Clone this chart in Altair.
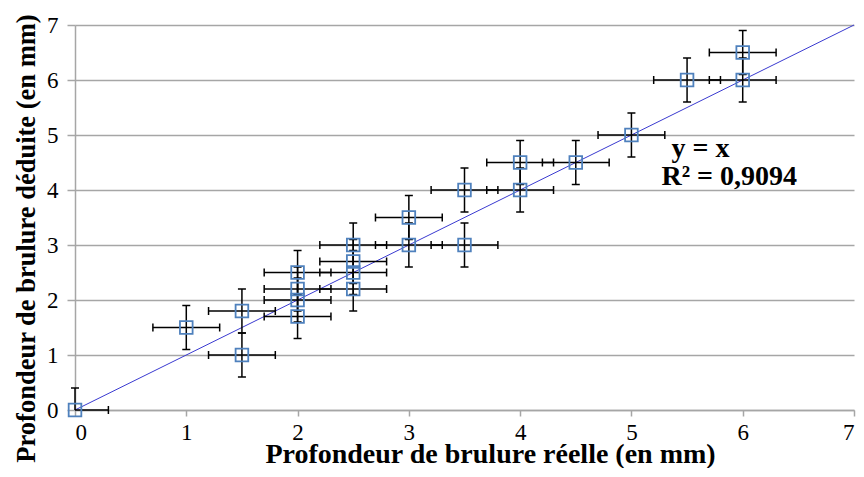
import altair as alt
import pandas as pd

# Data
x_reel = [0, 1, 1.5, 1.5, 2, 2, 2, 2, 2.5, 2.5, 2.5, 2.5, 3, 3, 3.5, 3.5, 4, 4, 4.5, 5, 5.5, 6, 6]
y_deduit = [0, 1.5, 1.8, 1.0, 2.5, 2.2, 2.0, 1.7, 3.0, 2.7, 2.5, 2.2, 3.5, 3.0, 4.0, 3.0, 4.5, 4.0, 4.5, 5.0, 6.0, 6.5, 6.0]
x_err = [0.3] * 23
y_err = [0.4] * 23

fit_x = [0, 7]
fit_y = [0, 7]

ticks = [0, 1, 2, 3, 4, 5, 6, 7]

ann_text = ["y = x", "R² = 0,9094"]
ann_x = [5.36, 5.27]
ann_y = [4.6, 4.09]

df = pd.DataFrame({"x": x_reel, "y": y_deduit, "xe": x_err, "ye": y_err})
df["xlo"] = (df["x"] - df["xe"]).clip(lower=0)
df["xhi"] = df["x"] + df["xe"]
df["ylo"] = (df["y"] - df["ye"]).clip(lower=0)
df["yhi"] = df["y"] + df["ye"]

fit = pd.DataFrame({"x": fit_x, "y": fit_y})
ann = pd.DataFrame({"t": ann_text, "x": ann_x, "y": ann_y})

SERIF = "Liberation Serif, Times New Roman, serif"
GRAY = "#a6a6a6"

xs = alt.Scale(domain=[0, 7], nice=False)
ys = alt.Scale(domain=[0, 7], nice=False)

x_axis = alt.Axis(
    values=ticks, format="d", grid=False, tickSize=6,
    labelPadding=5, title="Profondeur de brulure réelle (en mm)",
    titleX=415, titleY=52, titleBaseline="alphabetic", titleAlign="center"
)
y_axis = alt.Axis(
    values=ticks, format="d", grid=True, tickSize=8, labelPadding=9,
    title="Profondeur de brulure déduite (en mm)", titleFontSize=26.5,
    titleX=-41, titleY=213, titleBaseline="alphabetic", titleAlign="center", titleAngle=270
)


def X(f):
    return alt.X(f, type="quantitative", scale=xs, axis=x_axis)


def Y(f):
    return alt.Y(f, type="quantitative", scale=ys, axis=y_axis)


base = alt.Chart(df)

line = alt.Chart(fit).mark_line(color="#3a3ad0", strokeWidth=1).encode(x=X("x"), y=Y("y"))

xbar = base.mark_rule(color="black", strokeWidth=1.5).encode(x=X("xlo"), x2="xhi:Q", y=Y("y"))
ybar = base.mark_rule(color="black", strokeWidth=1.5).encode(x=X("x"), y=Y("ylo"), y2="yhi:Q")

vcap = "M0,-1L0,1"
hcap = "M-1,0L1,0"
cap_style = dict(filled=False, color="black", strokeWidth=1.5, size=64, opacity=1)

xcap_hi = base.mark_point(shape=vcap, **cap_style).encode(x=X("xhi"), y=Y("y"))
xcap_lo = base.transform_filter("datum.x - datum.xe >= 0").mark_point(shape=vcap, **cap_style).encode(
    x=X("xlo"), y=Y("y"))
ycap_hi = base.mark_point(shape=hcap, **cap_style).encode(x=X("x"), y=Y("yhi"))
ycap_lo = base.transform_filter("datum.y - datum.ye >= 0").mark_point(shape=hcap, **cap_style).encode(
    x=X("x"), y=Y("ylo"))

pts = base.mark_point(shape="square", filled=False, color="#4f81bd", strokeWidth=1.8, size=160, opacity=1).encode(
    x=X("x"), y=Y("y"))

text = alt.Chart(ann).mark_text(
    font=SERIF, fontSize=28, fontWeight="bold", color="black", align="left", baseline="alphabetic"
).encode(x=X("x"), y=Y("y"), text="t:N")

chart = alt.layer(line, xbar, ybar, xcap_hi, xcap_lo, ycap_hi, ycap_lo, pts, text).properties(
    width=779, height=385,
    autosize=alt.AutoSizeParams(type="none"),
    padding={"left": 67, "top": 17, "right": 2, "bottom": 58},
    background="white",
).configure_view(strokeWidth=0).configure_axis(
    labelFont=SERIF, labelFontSize=23, labelColor="black",
    titleFont=SERIF, titleFontSize=28, titleFontWeight="bold", titleColor="black",
    domainColor=GRAY, domainWidth=1.5, tickColor=GRAY, tickWidth=1.5,
    gridColor=GRAY, gridWidth=1.5,
)

chart.save("out.html", embed_options={"renderer": "svg", "actions": False})
